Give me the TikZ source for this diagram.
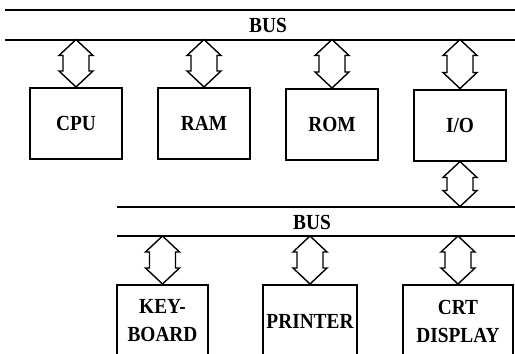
\documentclass[tikz,border=0pt]{standalone}
\usepackage{fontspec}
\setmainfont{Liberation Serif}[FakeStretch=0.9]
\usetikzlibrary{positioning, calc}

% バスと装置を結ぶ両方向の白抜き矢印（#1 = 下端, #2 = 上端）
\newcommand{\busarrow}[2]{%
    \draw [bus_arrow] let \p1 = (#1), \p2 = (#2) in
        (\x1, \y1) -- (\x1-17pt, \y1+16pt) -- (\x1-13pt, \y1+16pt)
        -- (\x1-13pt, \y2-16pt) -- (\x1-17pt, \y2-16pt) -- (\x1, \y2)
        -- (\x1+17pt, \y2-16pt) -- (\x1+13pt, \y2-16pt)
        -- (\x1+13pt, \y1+16pt) -- (\x1+17pt, \y1+16pt) -- cycle;
}

\begin{document}
\begin{tikzpicture}[
    x=1pt, y=-1pt,          % 画素と同じ座標系（下向きが正）
    font=\fontsize{21.5}{28}\selectfont\bfseries,
    unit_box/.style={
        draw, line width=2pt,
        minimum width=92pt, minimum height=71pt,
        align=center, inner sep=0pt
    },
    bus_line/.style={line width=2pt},
    bus_arrow/.style={line width=1.4pt, line join=miter}
]
    \useasboundingbox (0, 0) rectangle (515, 354);
    \clip (0, 0) rectangle (515, 354);

    % --- 1. 上側のバス ---
    \coordinate (top_bus_a) at (5, 9.5);
    \coordinate (top_bus_b) at (5, 39.5);
    \draw [bus_line] (top_bus_a) -- (515, 9.5);
    \draw [bus_line] (top_bus_b) -- (515, 39.5);
    \node (top_bus) at (268, 25) {BUS};

    % --- 2. CPU・メモリ・入出力 ---
    \node [unit_box] (cpu) at (76, 123.5) {CPU};
    \node [unit_box] (ram) at (204, 123.5) {RAM};
    \node [unit_box] (rom) at (332, 124.5) {ROM};
    \node [unit_box] (io)  at (460, 125) {I/O};

    \busarrow{cpu.north}{cpu.north |- top_bus_b}
    \busarrow{ram.north}{ram.north |- top_bus_b}
    \busarrow{rom.north}{rom.north |- top_bus_b}
    \busarrow{io.north}{io.north |- top_bus_b}

    % --- 3. 下側のバス ---
    \coordinate (low_bus_a) at (117, 206.5);
    \coordinate (low_bus_b) at (117, 236);
    \draw [bus_line] (low_bus_a) -- (515, 206.5);
    \draw [bus_line] (low_bus_b) -- (515, 236);
    \node (low_bus) at (312, 222) {BUS};

    \busarrow{io.south |- low_bus_a}{io.south}

    % --- 4. 周辺機器（下端は画面外へ切れる） ---
    \node [unit_box, minimum width=91pt, minimum height=72pt]
        (keyboard) at (162.5, 321) {KEY-\\BOARD};
    \node [unit_box, minimum width=94pt, minimum height=72pt]
        (printer) at (310, 321) {PRINTER};
    \node [unit_box, minimum width=110pt, minimum height=72pt]
        (crt) at (458, 321) {CRT\\DISPLAY};

    \busarrow{keyboard.north}{keyboard.north |- low_bus_b}
    \busarrow{printer.north}{printer.north |- low_bus_b}
    \busarrow{crt.north}{crt.north |- low_bus_b}

\end{tikzpicture}
\end{document}
